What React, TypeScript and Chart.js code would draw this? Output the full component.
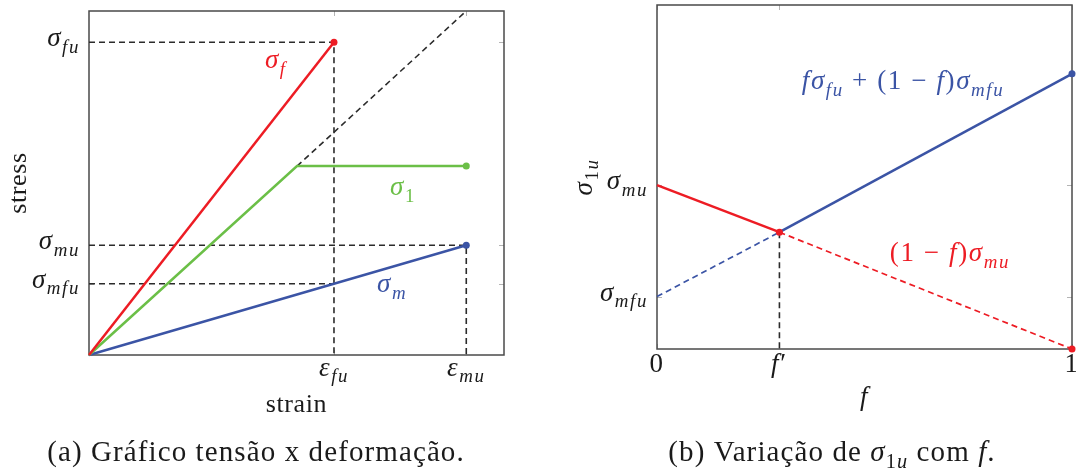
import { useEffect, useRef } from "react";
import { Chart, registerables } from "chart.js";

Chart.register(...registerables);

// ---------- panel (a): stress–strain curves ----------
const strainMax = 1.694;
const stressMax = 1.1;
const strainTicks = [1.0, 1.54];
const strainTickLabels = ["$ε_{fu}$", "$ε_{mu}$"];
const stressTicks = [1.0, 0.351, 0.228];
const stressTickLabels = ["$σ_{fu}$", "$σ_{mu}$", "$σ_{mfu}$"];

const fibreStrain = [0, 1.0];
const fibreStress = [0, 1.0];
const compositeStrain = [0, 0.849, 1.54];
const compositeStress = [0, 0.604, 0.604];
const matrixStrain = [0, 1.54];
const matrixStress = [0, 0.351];
const elasticStrain = [0.849, 1.54];
const elasticStress = [0.604, 1.1];

// ---------- panel (b): σ1u as a function of f ----------
const fMax = 1;
const sigmaMax = 2.1;
const fTicks = [0, 0.295, 1];
const fTickLabels = ["$0$", "$f′$", "$1$"];
const sigmaTicks = [1.0, 0.32];
const sigmaTickLabels = ["$σ_{mu}$", "$σ_{mfu}$"];

const fValues = [0, 0.295, 1];
const matrixCurve = [1.0, 0.713, 0];
const fibreCurve = [0.32, 0.713, 1.68];

const RED = "#ed1c24";
const GREEN = "#6bbf47";
const BLUE = "#3b54a5";
const GUIDE = "#2b2b2b";
const FRAME = "#4a4a4a";
const TICK = "#b4b4b4";
const INK = "#1a1a1a";
const FONT = '"Liberation Serif", "Times New Roman", serif';

type TextStyle = { size: number; spacing: number };
const MATH: TextStyle = { size: 27, spacing: 1.6 };
const TITLE: TextStyle = { size: 26, spacing: 0.6 };
const CAPTION: TextStyle = { size: 29, spacing: 1.1 };

type Run = { t: string; it: boolean; sub: boolean };

function parseLabel(src: string): Run[] {
  const runs: Run[] = [];
  let math = false;
  const push = (ch: string, sub: boolean) => {
    const it = math && /[A-Za-zα-ω]/.test(ch);
    const last = runs[runs.length - 1];
    if (last && last.it === it && last.sub === sub) last.t += ch;
    else runs.push({ t: ch, it, sub });
  };
  let i = 0;
  while (i < src.length) {
    const ch = src[i];
    if (ch === "$") {
      math = !math;
      i++;
      continue;
    }
    if (math && ch === "_") {
      if (src[i + 1] === "{") {
        const end = src.indexOf("}", i);
        for (const c of src.slice(i + 2, end)) push(c, true);
        i = end + 1;
      } else {
        push(src[i + 1], true);
        i += 2;
      }
      continue;
    }
    push(ch, false);
    i++;
  }
  return runs;
}

function runFont(r: Run, size: number) {
  const s = r.sub ? size * 0.7 : size;
  return `${r.it ? "italic " : ""}${s}px ${FONT}`;
}

function drawLabel(
  ctx: CanvasRenderingContext2D,
  src: string,
  x: number,
  y: number,
  color: string,
  align: "left" | "center" | "right",
  style: TextStyle,
  angle = 0
) {
  const runs = parseLabel(src);
  const size = style.size;
  ctx.save();
  ctx.translate(x, y);
  if (angle) ctx.rotate(angle);
  ctx.fillStyle = color;
  ctx.textBaseline = "alphabetic";
  ctx.textAlign = "left";
  (ctx as any).letterSpacing = `${style.spacing}px`;
  const widths = runs.map((r) => {
    ctx.font = runFont(r, size);
    return ctx.measureText(r.t).width;
  });
  const total = widths.reduce((a, b) => a + b, 0);
  let cx = align === "left" ? 0 : align === "center" ? -total / 2 : -total;
  runs.forEach((r, k) => {
    ctx.font = runFont(r, size);
    ctx.fillText(r.t, cx, r.sub ? size * 0.24 : 0);
    cx += widths[k];
  });
  ctx.restore();
}

const pts = (xs: number[], ys: number[]) => xs.map((x, i) => ({ x, y: ys[i] }));

type Note = { text: string; x: number; y: number; color: string };

interface PanelSpec {
  xMax: number;
  yMax: number;
  xTicks: number[];
  xTickLabels: string[];
  yTicks: number[];
  yTickLabels: string[];
  xTitle: string;
  yTitle: string;
  caption: string;
  captionX: number;
  xTickBaseline: number;
  xTitleBaseline: number;
  yTitleX: number;
  notes: Note[];
  padding: { left: number; right: number; top: number; bottom: number };
  datasets: any[];
}

const styleFor = (s: string) => (s.includes("$") ? MATH : TITLE);

// frame, inward tick marks, tick labels, titles and caption
const panelDecor = {
  id: "panelDecor",
  beforeDatasetsDraw(chart: any, _args: any, opts: any) {
    const spec: PanelSpec = opts.spec;
    const { ctx, chartArea: a } = chart;
    const xs = chart.scales.x;
    const ys = chart.scales.y;
    ctx.save();
    ctx.strokeStyle = TICK;
    ctx.lineWidth = 1;
    const len = 5;
    spec.xTicks.forEach((v) => {
      const px = Math.round(xs.getPixelForValue(v)) + 0.5;
      ctx.beginPath();
      ctx.moveTo(px, a.top);
      ctx.lineTo(px, a.top + len);
      ctx.moveTo(px, a.bottom);
      ctx.lineTo(px, a.bottom - len);
      ctx.stroke();
    });
    spec.yTicks.forEach((v) => {
      const py = Math.round(ys.getPixelForValue(v)) + 0.5;
      ctx.beginPath();
      ctx.moveTo(a.left, py);
      ctx.lineTo(a.left + len, py);
      ctx.moveTo(a.right, py);
      ctx.lineTo(a.right - len, py);
      ctx.stroke();
    });
    ctx.strokeStyle = FRAME;
    ctx.lineWidth = 1.5;
    ctx.strokeRect(a.left, a.top, a.right - a.left, a.bottom - a.top);
    ctx.restore();
  },
  afterDraw(chart: any, _args: any, opts: any) {
    const spec: PanelSpec = opts.spec;
    const { ctx, chartArea: a } = chart;
    const xs = chart.scales.x;
    const ys = chart.scales.y;
    spec.xTicks.forEach((v, i) => {
      drawLabel(ctx, spec.xTickLabels[i], xs.getPixelForValue(v), a.bottom + spec.xTickBaseline, INK, "center", MATH);
    });
    spec.yTicks.forEach((v, i) => {
      drawLabel(ctx, spec.yTickLabels[i], a.left - 9, ys.getPixelForValue(v) + 4, INK, "right", MATH);
    });
    const midX = (a.left + a.right) / 2;
    const midY = (a.top + a.bottom) / 2;
    drawLabel(ctx, spec.xTitle, midX, spec.xTitleBaseline, INK, "center", styleFor(spec.xTitle));
    drawLabel(ctx, spec.yTitle, spec.yTitleX, midY, INK, "center", styleFor(spec.yTitle), -Math.PI / 2);
    spec.notes.forEach((n) => {
      drawLabel(ctx, n.text, xs.getPixelForValue(n.x), ys.getPixelForValue(n.y), n.color, "left", MATH);
    });
    drawLabel(ctx, spec.caption, spec.captionX, 461, INK, "center", CAPTION);
  },
};

const solid = (data: any[], color: string, order: number, radii: number[]) => ({
  data,
  borderColor: color,
  backgroundColor: color,
  borderWidth: 2.5,
  pointRadius: radii,
  pointBackgroundColor: color,
  pointBorderWidth: 0,
  tension: 0,
  fill: false,
  clip: false,
  order,
});

const guide = (data: any[], order: number) => ({
  data,
  borderColor: GUIDE,
  borderWidth: 1.6,
  borderDash: [6, 4],
  pointRadius: 0,
  tension: 0,
  fill: false,
  clip: false,
  order,
});

const leftSpec: PanelSpec = {
  xMax: strainMax,
  yMax: stressMax,
  xTicks: strainTicks,
  xTickLabels: strainTickLabels,
  yTicks: stressTicks,
  yTickLabels: stressTickLabels,
  xTitle: "strain",
  yTitle: "stress",
  caption: "(a) Gráfico tensão x deformação.",
  captionX: 256,
  xTickBaseline: 21,
  xTitleBaseline: 412,
  yTitleX: 26,
  notes: [
    { text: "$σ_{f}$", x: 0.718, y: 0.917, color: RED },
    { text: "$σ_{1}$", x: 1.229, y: 0.511, color: GREEN },
    { text: "$σ_{m}$", x: 1.176, y: 0.201, color: BLUE },
  ],
  padding: { left: 89, right: 36, top: 11, bottom: 117 },
  datasets: [
    solid(pts(fibreStrain, fibreStress), RED, 1, [0, 3.5]),
    solid(pts(compositeStrain, compositeStress), GREEN, 2, [0, 0, 3.5]),
    solid(pts(matrixStrain, matrixStress), BLUE, 3, [0, 3.5]),
    guide(pts(elasticStrain, elasticStress), 4),
    guide(
      pts([0, strainTicks[0], strainTicks[0]], [stressTicks[0], stressTicks[0], 0]),
      5
    ),
    guide(
      pts([0, strainTicks[1], strainTicks[1]], [stressTicks[1], stressTicks[1], 0]),
      6
    ),
    guide(pts([0, strainTicks[0]], [stressTicks[2], stressTicks[2]]), 7),
  ],
};

// dashed once a curve passes beyond (or before) the governing branch
const split = (dashedSegment: number) => ({
  borderDash: (c: any) => (c.p0DataIndex === dashedSegment ? [6, 4] : undefined),
  borderWidth: (c: any) => (c.p0DataIndex === dashedSegment ? 1.7 : 2.5),
});

const rightSpec: PanelSpec = {
  xMax: fMax,
  yMax: sigmaMax,
  xTicks: fTicks,
  xTickLabels: fTickLabels,
  yTicks: sigmaTicks,
  yTickLabels: sigmaTickLabels,
  xTitle: "$f$",
  yTitle: "$σ_{1u}$",
  caption: "(b) Variação de $σ_{1u}$ com $f$.",
  captionX: 292,
  xTickBaseline: 23,
  xTitleBaseline: 405,
  yTitleX: 52,
  notes: [
    { text: "$fσ_{fu} + (1 − f)σ_{mfu}$", x: 0.349, y: 1.585, color: BLUE },
    { text: "$(1 − f)σ_{mu}$", x: 0.561, y: 0.537, color: RED },
  ],
  padding: { left: 117, right: 4, top: 5, bottom: 123 },
  datasets: [
    { ...solid(pts(fValues, matrixCurve), RED, 1, [0, 3.5, 3.5]), segment: split(1) },
    { ...solid(pts(fValues, fibreCurve), BLUE, 2, [0, 0, 3.5]), segment: split(0) },
    guide(pts([fValues[1], fValues[1]], [matrixCurve[1], 0]), 3),
  ],
};

function Panel({ spec, left, width }: { spec: PanelSpec; left: number; width: number }) {
  const ref = useRef<HTMLCanvasElement | null>(null);
  useEffect(() => {
    if (!ref.current) return;
    const chart = new Chart(ref.current, {
      type: "line",
      data: { datasets: spec.datasets },
      options: {
        animation: false,
        responsive: false,
        maintainAspectRatio: false,
        events: [],
        layout: { padding: spec.padding },
        plugins: {
          legend: { display: false },
          tooltip: { enabled: false },
          panelDecor: { spec },
        } as any,
        scales: {
          x: { type: "linear", min: 0, max: spec.xMax, display: false },
          y: { type: "linear", min: 0, max: spec.yMax, display: false },
        },
      },
      plugins: [panelDecor],
    });
    return () => chart.destroy();
  }, [spec]);
  return (
    <canvas
      ref={ref}
      width={width}
      height={472}
      style={{ position: "absolute", left, top: 0, width, height: 472 }}
    />
  );
}

export default function App() {
  return (
    <div
      style={{
        position: "fixed",
        left: 0,
        top: 0,
        width: 1076,
        height: 472,
        background: "#ffffff",
        overflow: "hidden",
      }}
    >
      <Panel spec={leftSpec} left={0} width={540} />
      <Panel spec={rightSpec} left={540} width={536} />
    </div>
  );
}
